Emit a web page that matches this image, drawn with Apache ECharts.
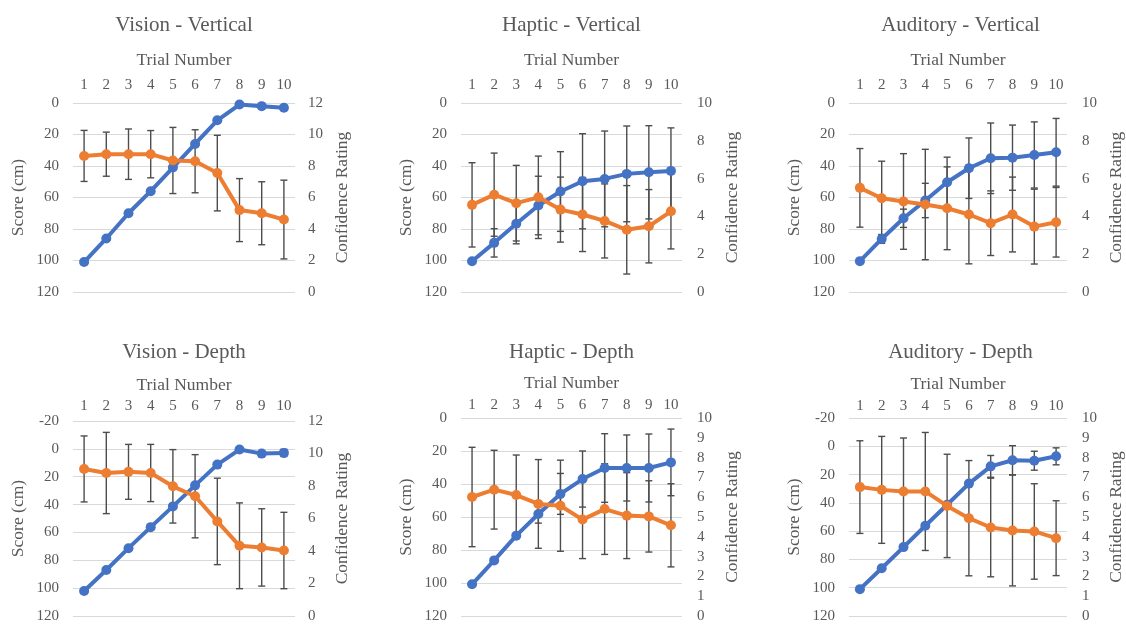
<!DOCTYPE html>
<html>
<head>
<meta charset="utf-8">
<script src="https://cdn.jsdelivr.net/npm/echarts@6/dist/echarts.min.js"></script>
<style>
  html, body { margin: 0; padding: 0; background: #fff; }
  #chart { width: 1126px; height: 624px; }
</style>
</head>
<body>
<div id="chart"></div>
<script>
const trials = ['1', '2', '3', '4', '5', '6', '7', '8', '9', '10'];

// Vision - Vertical
const visionVertScore = [101, 86, 70, 56, 41, 26, 11, 1, 2, 3];
const visionVertScoreErr = [0.5, 0.5, 0.5, 0.5, 0.5, 0.5, 0.5, 1, 1.5, 1.5];
const visionVertConf = [8.64, 8.75, 8.75, 8.75, 8.35, 8.3, 7.55, 5.2, 5.0, 4.6];
const visionVertConfErr = [1.62, 1.4, 1.6, 1.5, 2.1, 2.0, 2.4, 2.0, 2.0, 2.5];

// Haptic - Vertical
const hapticVertScore = [100.5, 88.8, 76.7, 65.1, 56.2, 49.7, 48.2, 45, 44, 43.1];
const hapticVertScoreErr = [0.5, 9, 12.7, 18.6, 25.3, 30.2, 30.4, 30.4, 29.6, 27.3];
const hapticVertConf = [4.61, 5.15, 4.7, 5.01, 4.36, 4.1, 3.76, 3.29, 3.48, 4.27];
const hapticVertConfErr = [2.23, 2.2, 2.0, 2.18, 1.72, 1.96, 1.96, 2.34, 1.94, 1.99];

// Auditory - Vertical
const audVertScore = [100.4, 86.3, 73.2, 61.9, 50.3, 41.4, 35.1, 34.7, 33, 31.3];
const audVertScoreErr = [0.5, 2.8, 5.8, 10.9, 15.9, 19.2, 22.4, 20.7, 21, 21.5];
const audVertConf = [5.51, 4.96, 4.79, 4.63, 4.43, 4.1, 3.64, 4.1, 3.46, 3.69];
const audVertConfErr = [2.08, 1.96, 2.53, 2.92, 2.19, 2.61, 1.71, 1.98, 1.98, 1.84];

// Vision - Depth
const visionDepthScore = [102, 87, 71.3, 56.2, 41.3, 26.2, 11.3, 0.5, 3.4, 2.9];
const visionDepthScoreErr = [0.5, 0.5, 0.5, 0.5, 0.5, 0.5, 0.5, 1, 2, 2.6];
const visionDepthConf = [9.05, 8.8, 8.87, 8.8, 7.98, 7.37, 5.82, 4.32, 4.22, 4.03];
const visionDepthConfErr = [2.03, 2.5, 1.69, 1.76, 2.26, 2.56, 2.66, 2.64, 2.38, 2.35];

// Haptic - Depth
const hapticDepthScore = [100.8, 86.3, 71.3, 58.2, 46, 37, 30.3, 30.3, 30.3, 26.9];
const hapticDepthScoreErr = [0.5, 0.5, 1, 5.5, 12.4, 17, 20.8, 20, 20.6, 20.2];
const hapticDepthConf = [6.01, 6.38, 6.11, 5.66, 5.57, 4.87, 5.4, 5.07, 5.03, 4.58];
const hapticDepthConfErr = [2.51, 1.99, 2.02, 2.24, 2.3, 1.97, 2.29, 2.17, 1.8, 2.1];

// Auditory - Depth
const audDepthScore = [101, 86.2, 71.3, 56.2, 41.3, 26.4, 14.2, 9.9, 10.2, 7.1];
const audDepthScoreErr = [0.5, 0.5, 1.5, 0.5, 0.5, 1, 7.7, 10.3, 6.7, 6];
const audDepthConf = [6.51, 6.37, 6.29, 6.29, 5.56, 4.94, 4.47, 4.32, 4.27, 3.93];
const audDepthConfErr = [2.34, 2.7, 2.7, 2.98, 2.61, 2.91, 2.49, 2.8, 2.41, 1.89];

const panels = [
  { title: 'Vision - Vertical', score: visionVertScore, scoreErr: visionVertScoreErr, conf: visionVertConf, confErr: visionVertConfErr, scoreMin: 0, confMax: 12, confStep: 2 },
  { title: 'Haptic - Vertical', score: hapticVertScore, scoreErr: hapticVertScoreErr, conf: hapticVertConf, confErr: hapticVertConfErr, scoreMin: 0, confMax: 10, confStep: 2 },
  { title: 'Auditory - Vertical', score: audVertScore, scoreErr: audVertScoreErr, conf: audVertConf, confErr: audVertConfErr, scoreMin: 0, confMax: 10, confStep: 2 },
  { title: 'Vision - Depth', score: visionDepthScore, scoreErr: visionDepthScoreErr, conf: visionDepthConf, confErr: visionDepthConfErr, scoreMin: -20, confMax: 12, confStep: 2 },
  { title: 'Haptic - Depth', score: hapticDepthScore, scoreErr: hapticDepthScoreErr, conf: hapticDepthConf, confErr: hapticDepthConfErr, scoreMin: 0, confMax: 10, confStep: 1 },
  { title: 'Auditory - Depth', score: audDepthScore, scoreErr: audDepthScoreErr, conf: audDepthConf, confErr: audDepthConfErr, scoreMin: -20, confMax: 10, confStep: 1 }
];

// where each panel sits
const boxes = [
  { left: 73, top: 103, width: 222, height: 189, titleY: 25, labelMargin: 10, nameGap: 34, rightMargin: 13, rightGap: 38 },
  { left: 461, top: 103, width: 221, height: 189, titleY: 25, labelMargin: 10, nameGap: 34, rightMargin: 15, rightGap: 41 },
  { left: 849, top: 103, width: 223, height: 189, titleY: 25, labelMargin: 10, nameGap: 34, rightMargin: 15, rightGap: 40 },
  { left: 73, top: 421, width: 222, height: 195, titleY: 352, labelMargin: 7, nameGap: 27, rightMargin: 13, rightGap: 38 },
  { left: 461, top: 418, width: 221, height: 198, titleY: 352, labelMargin: 5, nameGap: 26, rightMargin: 15, rightGap: 41 },
  { left: 849, top: 418, width: 223, height: 198, titleY: 352, labelMargin: 4, nameGap: 25, rightMargin: 15, rightGap: 40 }
];

const FONT = 'Liberation Serif';
const TEXT = '#595959';
const BLUE = '#4472C4';
const ORANGE = '#ED7D31';

function errorBar(params, api) {
  const x = api.value(0);
  const lo = api.coord([x, api.value(1)]);
  const hi = api.coord([x, api.value(2)]);
  const w = 3.5;
  const style = { stroke: '#4d4d4d', lineWidth: 1.4 };
  return {
    type: 'group',
    children: [
      { type: 'line', shape: { x1: lo[0], y1: lo[1], x2: hi[0], y2: hi[1] }, style: style },
      { type: 'line', shape: { x1: lo[0] - w, y1: lo[1], x2: lo[0] + w, y2: lo[1] }, style: style },
      { type: 'line', shape: { x1: hi[0] - w, y1: hi[1], x2: hi[0] + w, y2: hi[1] }, style: style }
    ]
  };
}

const grid = [], xAxis = [], yAxis = [], series = [], graphic = [];

panels.forEach((p, i) => {
  const b = boxes[i];
  grid.push({ left: b.left, top: b.top, width: b.width, height: b.height });

  graphic.push({
    type: 'text',
    x: b.left + b.width / 2,
    y: b.titleY,
    style: { text: p.title, fontFamily: FONT, fontSize: 21, fill: TEXT, align: 'center', verticalAlign: 'middle' }
  });

  xAxis.push({
    gridIndex: i,
    type: 'category',
    data: trials,
    position: 'top',
    boundaryGap: true,
    name: 'Trial Number',
    nameLocation: 'middle',
    nameGap: b.nameGap,
    nameTextStyle: { fontFamily: FONT, fontSize: 17.5, color: TEXT },
    axisLine: { show: false },
    axisTick: { show: false },
    axisLabel: { fontFamily: FONT, fontSize: 15, color: TEXT, margin: b.labelMargin, interval: 0 }
  });

  yAxis.push({
    gridIndex: i,
    type: 'value',
    inverse: true,
    min: p.scoreMin,
    max: 120,
    interval: 20,
    position: 'left',
    name: 'Score (cm)',
    nameLocation: 'middle',
    nameGap: 46,
    nameTextStyle: { fontFamily: FONT, fontSize: 17.5, color: TEXT },
    axisLine: { show: false },
    axisTick: { show: false },
    axisLabel: { fontFamily: FONT, fontSize: 15, color: TEXT, margin: 14 },
    splitLine: { lineStyle: { color: '#d9d9d9', width: 1 } }
  });

  yAxis.push({
    gridIndex: i,
    type: 'value',
    min: 0,
    max: p.confMax,
    interval: p.confStep,
    position: 'right',
    name: 'Confidence Rating',
    nameLocation: 'middle',
    nameGap: b.rightGap,
    nameTextStyle: { fontFamily: FONT, fontSize: 17.5, color: TEXT },
    axisLine: { show: false },
    axisTick: { show: false },
    axisLabel: { fontFamily: FONT, fontSize: 15, color: TEXT, margin: b.rightMargin },
    splitLine: { show: false }
  });

  series.push({
    type: 'custom',
    xAxisIndex: i,
    yAxisIndex: 2 * i,
    renderItem: errorBar,
    encode: { x: 0, y: [1, 2] },
    data: p.score.map((v, k) => [k, v - p.scoreErr[k], v + p.scoreErr[k]]),
    z: 2
  });
  series.push({
    type: 'custom',
    xAxisIndex: i,
    yAxisIndex: 2 * i + 1,
    renderItem: errorBar,
    encode: { x: 0, y: [1, 2] },
    data: p.conf.map((v, k) => [k, v - p.confErr[k], v + p.confErr[k]]),
    z: 2
  });
  series.push({
    type: 'line',
    xAxisIndex: i,
    yAxisIndex: 2 * i,
    data: p.score,
    symbol: 'circle',
    symbolSize: 10,
    lineStyle: { color: BLUE, width: 4 },
    itemStyle: { color: BLUE },
    z: 3
  });
  series.push({
    type: 'line',
    xAxisIndex: i,
    yAxisIndex: 2 * i + 1,
    data: p.conf,
    symbol: 'circle',
    symbolSize: 10,
    lineStyle: { color: ORANGE, width: 4 },
    itemStyle: { color: ORANGE },
    z: 4
  });
});

const myChart = echarts.init(document.getElementById('chart'));
myChart.setOption({
  animation: false,
  backgroundColor: '#ffffff',
  grid: grid,
  xAxis: xAxis,
  yAxis: yAxis,
  series: series,
  graphic: graphic
});
</script>
</body>
</html>
